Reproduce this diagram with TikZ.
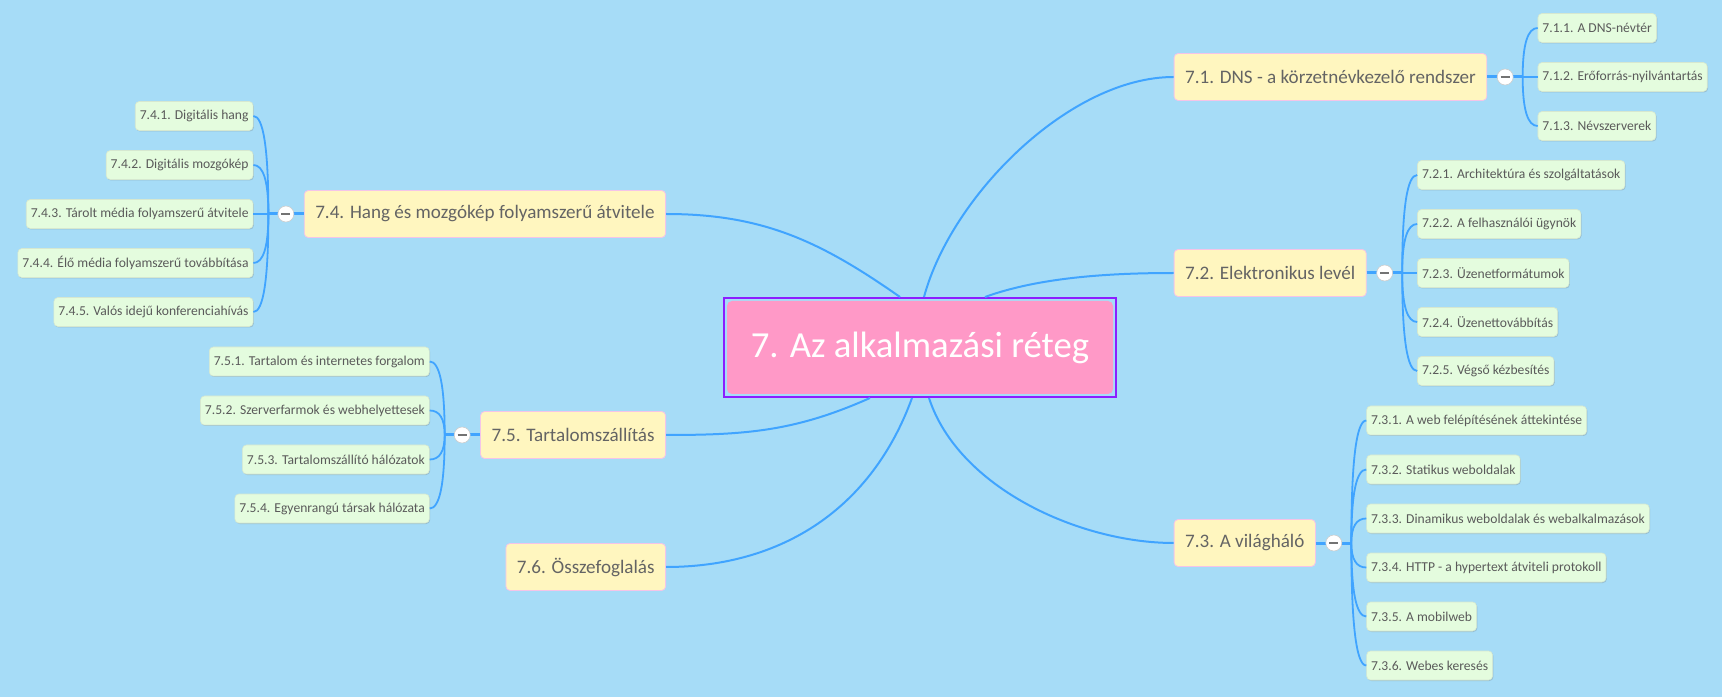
\documentclass[tikz,border=0pt]{standalone}
\usepackage{fontspec}
\setmainfont{Carlito}
\usetikzlibrary{positioning,calc,fit,shadows}
\definecolor{sky}{RGB}{166,220,247}
\definecolor{rootpink}{RGB}{255,153,199}
\definecolor{framepurple}{RGB}{140,30,255}
\definecolor{topicfill}{RGB}{255,246,191}
\definecolor{topicedge}{RGB}{244,196,232}
\definecolor{topictext}{RGB}{100,100,100}
\definecolor{subfill}{RGB}{228,252,222}
\definecolor{subedge}{RGB}{214,232,208}
\definecolor{subtext}{RGB}{90,90,90}
\definecolor{linkblue}{RGB}{64,164,255}
\newcommand\twig[2]{% junction, child anchor
  \coordinate (bend) at (#1 |- #2);
  \draw[twigline] (#1) .. controls ($(#1)!.667!(bend)$) and ($(#2)!.667!(bend)$) .. (#2);
}
\tikzset{%
  rootbox/.style={fill=rootpink, text=white, rounded corners=5pt, outer sep=0pt,
    minimum width=386pt, minimum height=93pt, font=\fontsize{36.7pt}{40pt}\selectfont},
  rootframe/.style={draw=framepurple, line width=2pt, inner sep=3pt},
  topicbox/.style={fill=topicfill, draw=topicedge, line width=.8pt, rounded corners=4pt,
    text=topictext, inner xsep=11pt, minimum height=47pt, font=\fontsize{19.1pt}{22pt}\selectfont},
  subbox/.style={fill=subfill, draw=subedge, line width=.6pt, rounded corners=4pt,
    text=subtext, inner xsep=4.5pt, minimum height=29pt, font=\fontsize{13.6pt}{16pt}\selectfont,
    drop shadow={shadow xshift=.8pt, shadow yshift=-1pt, opacity=.25, fill=black!60}},
  branch/.style={draw=linkblue, line width=2pt},
  stem/.style={draw=linkblue, line width=3pt},
  twigline/.style={draw=linkblue, line width=1.8pt},
  foldmark/.style={circle, fill=white, draw=black!20, line width=.6pt, minimum size=16pt,
    inner sep=0pt, path picture={\draw[black!55, line width=1.6pt]
      ([xshift=-4.5pt]path picture bounding box.center) -- ([xshift=4.5pt]path picture bounding box.center);}}
}

\begin{document}
\begin{tikzpicture}[x=1pt,y=1pt]
	\fill[sky] (0,0) rectangle (1722,697);
	\useasboundingbox (0,0) rectangle (1722,697);
	
	%% central topic
	\node[rootbox] (root) at (920,349.5) {7. Az alkalmazási réteg};
	\node[rootframe, fit=(root)] (frame) {};
	
	%% main topics
	\node[topicbox, anchor=west] (t1) at (1173.7,620) {7.1. DNS - a körzetnévkezelő rendszer};
	\node[topicbox, anchor=west] (t2) at (1173.7,424) {7.2. Elektronikus levél};
	\node[topicbox, anchor=west] (t3) at (1173.7,154) {7.3. A világháló};
	\node[topicbox, anchor=east] (t4) at (666,483) {7.4. Hang és mozgókép folyamszerű átvitele};
	\node[topicbox, anchor=east] (t5) at (666,262) {7.5. Tartalomszállítás};
	\node[topicbox, anchor=east] (t6) at (666,130) {7.6. Összefoglalás};
	
	\draw[branch] ([xshift=4pt]frame.north) to[out=75,in=180,looseness=.8] (t1.west);
	\draw[branch] ([xshift=65pt]frame.north) to[out=20,in=180,looseness=.8] (t2.west);
	\draw[branch] ([xshift=9pt]frame.south) to[out=-72,in=180,looseness=.85] (t3.west);
	\draw[branch] ([xshift=-20pt]frame.north) to[out=145,in=0] (t4.east);
	\draw[branch] ([xshift=-50pt]frame.south) to[out=204,in=0] (t5.east);
	\draw[branch] ([xshift=-8pt]frame.south) to[out=-110,in=0] (t6.east);
	
	%% junctions
	\coordinate (j1) at ([xshift=35.5pt]t1.east);
	\coordinate (j2) at ([xshift=35.5pt]t2.east);
	\coordinate (j3) at ([xshift=35.5pt]t3.east);
	\coordinate (j4) at ([xshift=-35.5pt]t4.west);
	\coordinate (j5) at ([xshift=-35.5pt]t5.west);
	\draw[stem] (t1.east) -- (j1);
	\draw[stem] (t2.east) -- (j2);
	\draw[stem] (t3.east) -- (j3);
	\draw[stem] (t4.west) -- (j4);
	\draw[stem] (t5.west) -- (j5);
	
	%% subtopics
	\foreach \txt [count=\i] in {7.1.1. A DNS-névtér, 7.1.2. Erőforrás-nyilvántartás, 7.1.3. Névszerverek}
	  \node[subbox, anchor=west] (s1\i) at ([xshift=15pt, yshift={49*(2-\i)}]j1) {\txt};
	\foreach \txt [count=\i] in {7.2.1. Architektúra és szolgáltatások, 7.2.2. A felhasználói ügynök,
	    7.2.3. Üzenetformátumok, 7.2.4. Üzenettovábbítás, 7.2.5. Végső kézbesítés}
	  \node[subbox, anchor=west] (s2\i) at ([xshift=15pt, yshift={49*(3-\i)}]j2) {\txt};
	\foreach \txt [count=\i] in {7.3.1. A web felépítésének áttekintése, 7.3.2. Statikus weboldalak,
	    7.3.3. Dinamikus weboldalak és webalkalmazások, 7.3.4. HTTP - a hypertext átviteli protokoll,
	    7.3.5. A mobilweb, 7.3.6. Webes keresés}
	  \node[subbox, anchor=west] (s3\i) at ([xshift=15pt, yshift={49*(3.5-\i)}]j3) {\txt};
	\foreach \txt [count=\i] in {7.4.1. Digitális hang, 7.4.2. Digitális mozgókép,
	    7.4.3. Tárolt média folyamszerű átvitele, 7.4.4. Élő média folyamszerű továbbítása,
	    7.4.5. Valós idejű konferenciahívás}
	  \node[subbox, anchor=east] (s4\i) at ([xshift=-15pt, yshift={49*(3-\i)}]j4) {\txt};
	\foreach \txt [count=\i] in {7.5.1. Tartalom és internetes forgalom, 7.5.2. Szerverfarmok és webhelyettesek,
	    7.5.3. Tartalomszállító hálózatok, 7.5.4. Egyenrangú társak hálózata}
	  \node[subbox, anchor=east] (s5\i) at ([xshift=-15pt, yshift={49*(2.5-\i)}]j5) {\txt};
	
	\foreach \i in {1,2,3} \twig{j1}{s1\i.west};
	\foreach \i in {1,...,5} \twig{j2}{s2\i.west};
	\foreach \i in {1,...,6} \twig{j3}{s3\i.west};
	\foreach \i in {1,...,5} \twig{j4}{s4\i.east};
	\foreach \i in {1,...,4} \twig{j5}{s5\i.east};
	
	%% fold buttons
	\node[foldmark] (f1) at ([xshift=18pt]t1.east) {};
	\node[foldmark] (f2) at ([xshift=18pt]t2.east) {};
	\node[foldmark] (f3) at ([xshift=18pt]t3.east) {};
	\node[foldmark] (f4) at ([xshift=-18pt]t4.west) {};
	\node[foldmark] (f5) at ([xshift=-18pt]t5.west) {};
\end{tikzpicture}
\end{document}
